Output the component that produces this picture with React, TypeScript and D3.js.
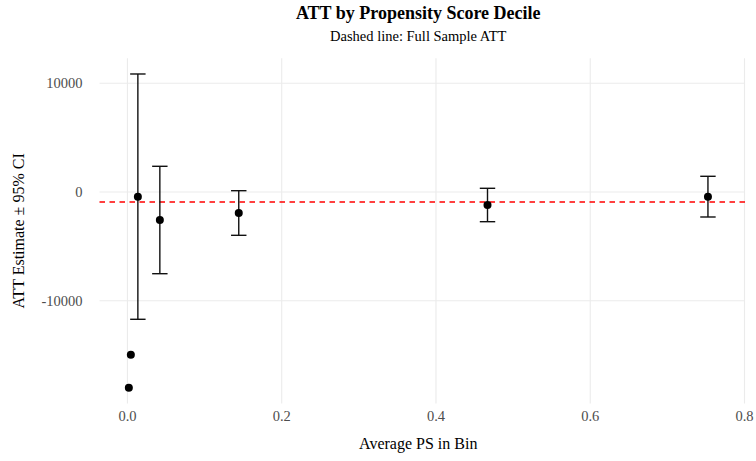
import React from "react";
import * as d3 from "d3";

const bins = ["b1", "b2", "b3", "b4", "b5", "b6", "b7"];
const avgPS = [0.0018, 0.0044, 0.0135, 0.042, 0.1443, 0.4668, 0.7526];
const att = [-18004, -14968, -430, -2576, -1932, -1196, -430];
const ciLow: (number | null)[] = [null, null, -11710, -7516, -3985, -2732, -2300];
const ciHigh: (number | null)[] = [null, null, 10855, 2364, 120, 340, 1444];
const fullATT = -920;
const xTicks = [0, 0.2, 0.4, 0.6, 0.8];
const yTicks = [-10000, 0, 10000];
const capHalf = 0.01;

const W = 756, H = 461;
const panel = { left: 99.5, right: 745, top: 58.3, bottom: 403.4 };
const font = "'Liberation Serif', 'DejaVu Serif', serif";

export default function App() {
  const xs: number[] = [];
  avgPS.forEach((p, i) => {
    xs.push(p);
    if (ciLow[i] !== null) { xs.push(p - capHalf, p + capHalf); }
  });
  const ys: number[] = [...att];
  ciLow.forEach((v) => v !== null && ys.push(v));
  ciHigh.forEach((v) => v !== null && ys.push(v));
  const [x0, x1] = d3.extent(xs) as [number, number];
  const [y0, y1] = d3.extent(ys) as [number, number];
  const dx = (x1 - x0) * 0.05, dy = (y1 - y0) * 0.05;
  const x = d3.scaleLinear().domain([x0 - dx, x1 + dx]).range([panel.left, panel.right]);
  const y = d3.scaleLinear().domain([y0 - dy, y1 + dy]).range([panel.bottom, panel.top]);
  const cx = (panel.left + panel.right) / 2 - 4;
  const grid = "#ebebeb";
  const fmt = (v: number) => d3.format(".1f")(v);

  return (
    <svg width={W} height={H} style={{ position: "absolute", left: 0, top: 0, background: "#fff" }} fontFamily={font}>
      <rect x={0} y={0} width={W} height={H} fill="#fff" />
      {xTicks.map((t) => (
        <line key={"gx" + t} x1={x(t)} x2={x(t)} y1={panel.top} y2={panel.bottom} stroke={grid} strokeWidth={1.1} />
      ))}
      {yTicks.map((t) => (
        <line key={"gy" + t} x1={panel.left} x2={panel.right} y1={y(t)} y2={y(t)} stroke={grid} strokeWidth={1.1} />
      ))}
      <line x1={panel.left} x2={panel.right} y1={y(fullATT)} y2={y(fullATT)} stroke="#ff0000" strokeWidth={1.4} strokeDasharray="5.5,4.5" />
      {bins.map((b, i) =>
        ciLow[i] !== null ? (
          <g key={"e" + b} stroke="#111" strokeWidth={1.4} fill="none">
            <line x1={x(avgPS[i])} x2={x(avgPS[i])} y1={y(ciLow[i] as number)} y2={y(ciHigh[i] as number)} />
            <line x1={x(avgPS[i] - capHalf)} x2={x(avgPS[i] + capHalf)} y1={y(ciLow[i] as number)} y2={y(ciLow[i] as number)} />
            <line x1={x(avgPS[i] - capHalf)} x2={x(avgPS[i] + capHalf)} y1={y(ciHigh[i] as number)} y2={y(ciHigh[i] as number)} />
          </g>
        ) : null
      )}
      {bins.map((b, i) => (
        <circle key={"p" + b} cx={x(avgPS[i])} cy={y(att[i])} r={4} fill="#000" />
      ))}
      {xTicks.map((t) => (
        <text key={"xl" + t} x={x(t)} y={panel.bottom + 18} textAnchor="middle" fontSize={14.5} fill="#4d4d4d">{fmt(t)}</text>
      ))}
      {yTicks.map((t) => (
        <text key={"yl" + t} x={panel.left - 17} y={y(t)} dy="0.35em" textAnchor="end" fontSize={14.5} fill="#4d4d4d">{t}</text>
      ))}
      <text x={cx} y={448.5} textAnchor="middle" fontSize={16} fill="#000">Average PS in Bin</text>
      <text transform={`translate(24,${(panel.top + panel.bottom) / 2}) rotate(-90)`} textAnchor="middle" fontSize={16} fill="#000">ATT Estimate ± 95% CI</text>
      <text x={cx} y={18.5} textAnchor="middle" fontSize={18} fontWeight="bold" fill="#000">ATT by Propensity Score Decile</text>
      <text x={cx} y={41} textAnchor="middle" fontSize={14.5} fill="#000">Dashed line: Full Sample ATT</text>
    </svg>
  );
}
